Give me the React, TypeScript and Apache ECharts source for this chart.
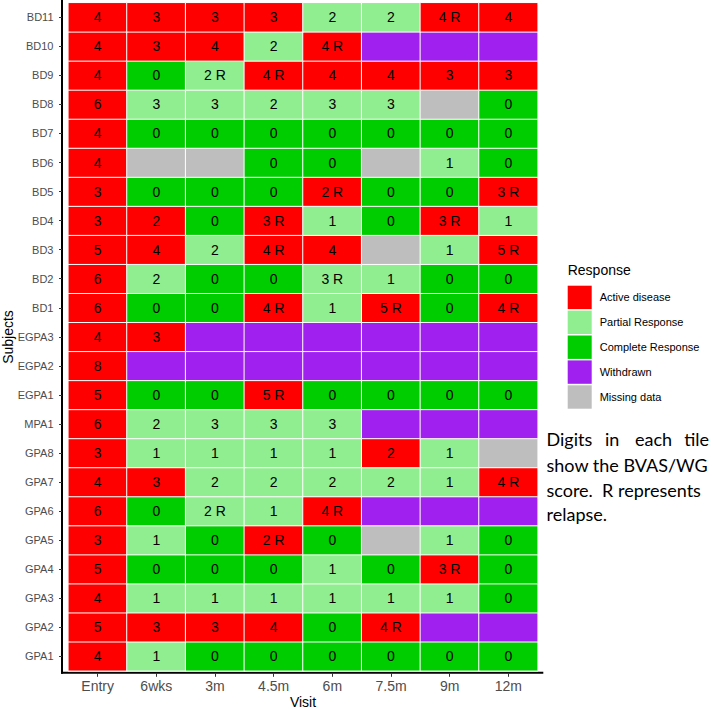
import React, { useEffect, useRef } from "react";
import * as echarts from "echarts";

const visits = ["Entry", "6wks", "3m", "4.5m", "6m", "7.5m", "9m", "12m"];

// bottom to top
const subjects = [
  "GPA1", "GPA2", "GPA3", "GPA4", "GPA5", "GPA6", "GPA7", "GPA8", "MPA1",
  "EGPA1", "EGPA2", "EGPA3", "BD1", "BD2", "BD3", "BD4", "BD5", "BD6",
  "BD7", "BD8", "BD9", "BD10", "BD11",
];

const responseNames = ["Active disease", "Partial Response", "Complete Response", "Withdrawn", "Missing data"];
const responseColors = ["#FF0000", "#90EE90", "#00CD00", "#A020F0", "#BEBEBE"];
const responseCodeIndex: Record<string, number> = { A: 0, P: 1, C: 2, W: 3, M: 4 };

// A = active, P = partial, C = complete, W = withdrawn, M = missing (one letter per visit)
const responses = [
  "APCCCCCC", // GPA1
  "AAAACAWW", // GPA2
  "APPPPPPC", // GPA3
  "ACCCPCAC", // GPA4
  "APCACMPC", // GPA5
  "ACPPAWWW", // GPA6
  "AAPPPPPA", // GPA7
  "APPPPAPM", // GPA8
  "APPPPWWW", // MPA1
  "ACCACCCC", // EGPA1
  "AWWWWWWW", // EGPA2
  "AAWWWWWW", // EGPA3
  "ACCAPACA", // BD1
  "APCCPPCC", // BD2
  "AAPAAMPA", // BD3
  "AACAPCAP", // BD4
  "ACCCACCA", // BD5
  "AMMCCMPC", // BD6
  "ACCCCCCC", // BD7
  "APPPPPMC", // BD8
  "ACPAAAAA", // BD9
  "AAAPAWWW", // BD10
  "AAAAPPAA", // BD11
];

const scores = [
  ["4", "1", "0", "0", "0", "0", "0", "0"],
  ["5", "3", "3", "4", "0", "4 R", "", ""],
  ["4", "1", "1", "1", "1", "1", "1", "0"],
  ["5", "0", "0", "0", "1", "0", "3 R", "0"],
  ["3", "1", "0", "2 R", "0", "", "1", "0"],
  ["6", "0", "2 R", "1", "4 R", "", "", ""],
  ["4", "3", "2", "2", "2", "2", "1", "4 R"],
  ["3", "1", "1", "1", "1", "2", "1", ""],
  ["6", "2", "3", "3", "3", "", "", ""],
  ["5", "0", "0", "5 R", "0", "0", "0", "0"],
  ["8", "", "", "", "", "", "", ""],
  ["4", "3", "", "", "", "", "", ""],
  ["6", "0", "0", "4 R", "1", "5 R", "0", "4 R"],
  ["6", "2", "0", "0", "3 R", "1", "0", "0"],
  ["5", "4", "2", "4 R", "4", "", "1", "5 R"],
  ["3", "2", "0", "3 R", "1", "0", "3 R", "1"],
  ["3", "0", "0", "0", "2 R", "0", "0", "3 R"],
  ["4", "", "", "0", "0", "", "1", "0"],
  ["4", "0", "0", "0", "0", "0", "0", "0"],
  ["6", "3", "3", "2", "3", "3", "", "0"],
  ["4", "0", "2 R", "4 R", "4", "4", "3", "3"],
  ["4", "3", "4", "2", "4 R", "", "", ""],
  ["4", "3", "3", "3", "2", "2", "4 R", "4"],
];

const FONT = "'Liberation Sans', Arial, Helvetica, sans-serif";
const NOTE_FONT = "Lato, 'Open Sans', sans-serif";

export default function App() {
  const ref = useRef<HTMLDivElement>(null);

  useEffect(() => {
    if (!ref.current) return;
    const chart = echarts.init(ref.current, undefined, { renderer: "svg" });

    const data: any[] = [];
    subjects.forEach((_, i) => {
      visits.forEach((_, j) => {
        data.push([j, i, responseCodeIndex[responses[i][j]], scores[i][j]]);
      });
    });

    const noteStyle = { fontSize: 18, fill: "#000", fontFamily: NOTE_FONT, textVerticalAlign: "middle" };

    const option: any = {
      animation: false,
      textStyle: { fontFamily: FONT },
      grid: { left: 68.3, right: 174.3, top: 2.8, bottom: 38.2, containLabel: false },
      xAxis: {
        type: "category",
        data: visits,
        offset: 2,
        axisLine: { show: false },
        axisTick: { show: true, alignWithLabel: true, length: 4, lineStyle: { color: "#333333", width: 1 } },
        axisLabel: { fontSize: 14, color: "#4D4D4D", margin: 6.5, fontFamily: FONT },
        splitLine: { show: false },
      },
      yAxis: {
        type: "category",
        data: subjects,
        offset: 6.3,
        axisLine: { show: false },
        axisTick: { show: true, alignWithLabel: true, length: 3, lineStyle: { color: "#333333", width: 1 } },
        axisLabel: { fontSize: 11, color: "#4D4D4D", margin: 8.5, fontFamily: FONT },
        splitLine: { show: false },
      },
      visualMap: {
        type: "piecewise",
        dimension: 2,
        pieces: responseNames.map((name, k) => ({ value: k, label: name, color: responseColors[k] })),
        orient: "vertical",
        inverse: true,
        align: "left",
        left: 567.7,
        top: 285.7,
        padding: 0,
        itemWidth: 24,
        itemHeight: 23.4,
        itemGap: 1.5,
        itemSymbol: "rect",
        textGap: 8,
        selectedMode: false,
        hoverLink: false,
        textStyle: { fontSize: 11, color: "#000000", fontFamily: FONT },
      },
      series: [
        {
          type: "heatmap",
          data,
          itemStyle: { borderColor: "#FFFFFF", borderWidth: 1 },
          label: {
            show: true,
            formatter: (p: any) => p.data[3],
            fontSize: 14,
            color: "#000000",
            fontFamily: FONT,
          },
          emphasis: { disabled: true },
        },
      ],
      graphic: [
        { type: "line", shape: { x1: 62, y1: 0, x2: 62, y2: 673.8 }, style: { stroke: "#000", lineWidth: 2 }, silent: true },
        { type: "line", shape: { x1: 61, y1: 672.8, x2: 543.3, y2: 672.8 }, style: { stroke: "#000", lineWidth: 2 }, silent: true },
        { type: "text", x: 303, y: 702, style: { text: "Visit", fontSize: 14, fill: "#000", fontFamily: FONT, textAlign: "center", textVerticalAlign: "middle" } },
        { type: "text", x: 7.5, y: 337, rotation: Math.PI / 2, style: { text: "Subjects", fontSize: 14, fill: "#000", fontFamily: FONT, textAlign: "center", textVerticalAlign: "middle" } },
        { type: "text", x: 567.7, y: 270.3, style: { text: "Response", fontSize: 14, fill: "#000", fontFamily: FONT, textAlign: "left", textVerticalAlign: "middle" } },
        { type: "text", x: 546.5, y: 439.4, style: { ...noteStyle, text: "Digits", textAlign: "left" } },
        { type: "text", x: 605, y: 439.4, style: { ...noteStyle, text: "in", textAlign: "left" } },
        { type: "text", x: 635, y: 439.4, style: { ...noteStyle, text: "each", textAlign: "left" } },
        { type: "text", x: 709, y: 439.4, style: { ...noteStyle, text: "tile", textAlign: "right" } },
        { type: "text", x: 546.5, y: 464.7, style: { ...noteStyle, text: "show the BVAS/WG", textAlign: "left" } },
        { type: "text", x: 546.5, y: 490.2, style: { ...noteStyle, text: "score.  R represents", textAlign: "left" } },
        { type: "text", x: 546.5, y: 514.4, style: { ...noteStyle, text: "relapse.", textAlign: "left" } },
      ],
    };

    chart.setOption(option);
    return () => chart.dispose();
  }, []);

  return <div ref={ref} style={{ position: "absolute", left: 0, top: 0, width: 712, height: 709 }} />;
}
